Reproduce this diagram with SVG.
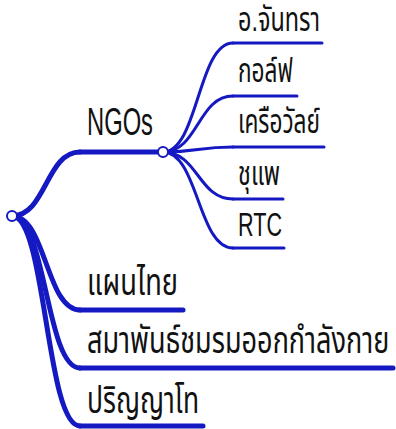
<svg xmlns="http://www.w3.org/2000/svg" width="396" height="429" viewBox="0 0 396 429">
<style>
.c1{fill:none;stroke:#1519c2;stroke-width:5;stroke-linecap:round}
.c2{fill:none;stroke:#1519c2;stroke-width:3;stroke-linecap:round}
.dot{fill:#fff;stroke:#1519c2;stroke-width:2}
.t1{font-family:"Liberation Sans","Noto Sans Thai","Noto Sans",sans-serif;font-size:38px;fill:#111}
.t2{font-family:"Liberation Sans","Noto Sans Thai","Noto Sans",sans-serif;font-size:33px;fill:#111}
</style>
<g id="connectors">
<path class="c1" d="M12 216C46 216 46 152 80 152"/>
<path class="c1" d="M12 216C46 216 46 310 80 310"/>
<path class="c1" d="M12 216C46 216 46 368 80 368"/>
<path class="c1" d="M12 216C46 216 46 426 80 426"/>
<path class="c2" d="M163 152C198 152 198 43 233 43"/>
<path class="c2" d="M163 152C198 152 198 96 233 96"/>
<path class="c2" d="M163 152C198 152 198 147 233 147"/>
<path class="c2" d="M163 152C198 152 198 199 233 199"/>
<path class="c2" d="M163 152C198 152 198 248 233 248"/>
</g>
<g id="n-ngos">
<path class="c1" d="M80 152H163"/>
<text class="t1" x="87" y="135" textLength="66" lengthAdjust="spacingAndGlyphs">NGOs</text>
</g>
<g id="n-chantra">
<path class="c2" d="M233 43H322"/>
<text class="t2" x="238" y="31" textLength="82" lengthAdjust="spacingAndGlyphs">อ.จันทรา</text>
</g>
<g id="n-golf">
<path class="c2" d="M233 96H297"/>
<text class="t2" x="238" y="82" textLength="55" lengthAdjust="spacingAndGlyphs">กอล์ฟ</text>
</g>
<g id="n-kruawan">
<path class="c2" d="M233 147H324"/>
<text class="t2" x="238" y="133" textLength="82" lengthAdjust="spacingAndGlyphs">เครือวัลย์</text>
</g>
<g id="n-chuphae">
<path class="c2" d="M233 199H283"/>
<text class="t2" x="238" y="185" textLength="42" lengthAdjust="spacingAndGlyphs">ชุแพ</text>
</g>
<g id="n-rtc">
<path class="c2" d="M233 248H284"/>
<text class="t2" x="238" y="236" textLength="44" lengthAdjust="spacingAndGlyphs">RTC</text>
</g>
<g id="n-phaenthai">
<path class="c1" d="M80 310H183"/>
<text class="t1" x="87" y="295" textLength="91" lengthAdjust="spacingAndGlyphs">แผนไทย</text>
</g>
<g id="n-samaphan">
<path class="c1" d="M80 368H393"/>
<text class="t1" transform="translate(87 353) scale(0.72 1)" x="0" y="0" textLength="420" lengthAdjust="spacingAndGlyphs">สมาพันธ์ชมรมออกกำลังกาย</text>
</g>
<g id="n-master">
<path class="c1" d="M80 426H203"/>
<text class="t1" x="87" y="413" textLength="112" lengthAdjust="spacingAndGlyphs">ปริญญาโท</text>
</g>
<g id="dots">
<circle class="dot" cx="163" cy="152" r="5"/>
<circle class="dot" cx="12" cy="216" r="5"/>
</g>
</svg>
